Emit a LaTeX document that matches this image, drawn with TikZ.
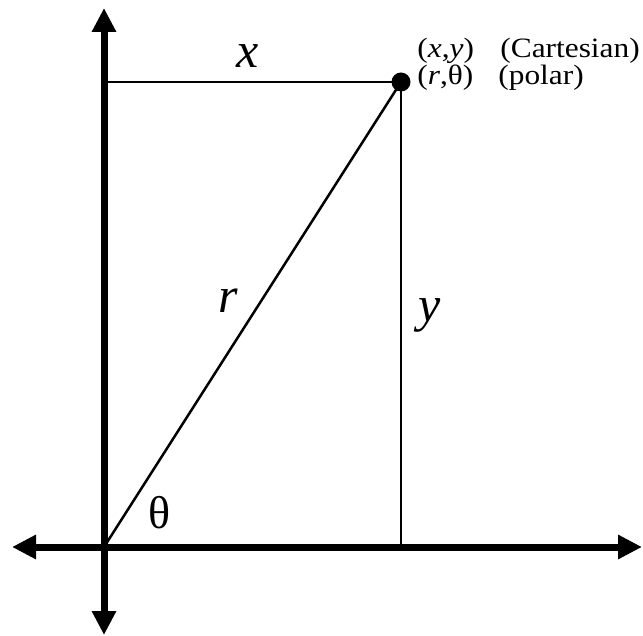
\documentclass[tikz,border=0pt]{standalone}
\usepackage{fontspec}
\setmainfont{Liberation Serif}
\newfontfamily\capfont[FakeStretch=1.12]{Liberation Serif}
\usetikzlibrary{arrows.meta}
\begin{document}
\begin{tikzpicture}[x=0.5pt,y=-0.5pt,
 axis/.style={line width=3.5pt,{Triangle[length=12pt,width=11.5pt]}-{Triangle[length=12pt,width=11.5pt]}},
 guide/.style={line width=1.25pt},
 lbl/.style={font=\fontsize{25}{25}\selectfont\itshape,inner sep=0,anchor=base},
 txt/.style={font=\capfont\fontsize{14}{14}\selectfont,inner sep=0,anchor=base west}]
\useasboundingbox (0,0) rectangle (643,636);
\coordinate (O) at (104,547);
\coordinate (T) at (104,8);
\coordinate (B) at (104,635);
\coordinate (L) at (12,547);
\coordinate (R) at (642,547);
\draw[axis] (B) -- (T);
\draw[axis] (L) -- (R);
\node[circle,fill,inner sep=0,minimum size=9.5pt] (P) at (401,82) {};
\draw[guide] (O) -- (P.center);
\draw[guide] (P.center) -- (P |- O);
\draw[guide] (P.center) -- (O |- P);
\node[lbl] (lx) at (248,68) {x};
\node[lbl] (lr) at (228,313) {r};
\node[lbl] (ly) at (430,322) {y};
\node[inner sep=0,anchor=base,font=\fontsize{23}{23}\selectfont] (lt) at (160,528) {θ};
\node[txt] (c1) at (417,57.5) {(\textit{x},\textit{y})};
\node[txt] (c2) at (500,57.5) {(Cartesian)};
\node[txt] (p1) at (417,85) {(\textit{r},θ)};
\node[txt] (p2) at (498,85) {(polar)};
\end{tikzpicture}
\end{document}
